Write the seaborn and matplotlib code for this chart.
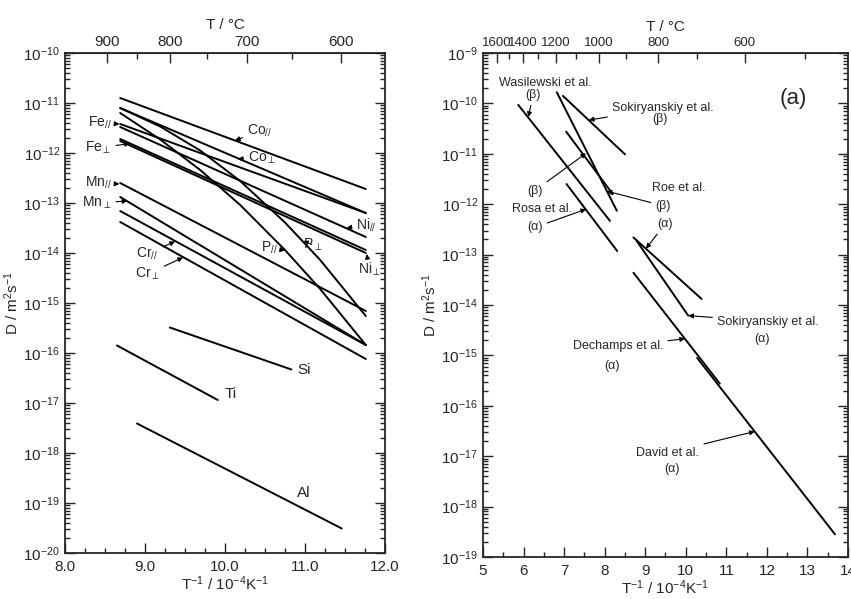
import numpy as np
import pandas as pd
import matplotlib
matplotlib.use("Agg")
import matplotlib.pyplot as plt
import seaborn as sns
from matplotlib.ticker import LogLocator, MultipleLocator, FixedLocator, NullFormatter, FormatStrFormatter

sns.set_style("ticks")
plt.rcParams["font.family"] = ["Liberation Sans", "DejaVu Sans"]
plt.rcParams["mathtext.fontset"] = "custom"
plt.rcParams["mathtext.rm"] = "Liberation Sans"
plt.rcParams["mathtext.it"] = "Liberation Sans:italic"
plt.rcParams["mathtext.bf"] = "Liberation Sans:bold"

# ---------------- data: x = 1/T (10^-4 K^-1), log10 D (m^2/s) ----------------
# left panel (diffusion in the alpha phase, parallel / perpendicular)
co_par = ([8.69, 11.76], [-10.90, -12.72])
co_perp = ([8.69, 11.76], [-11.10, -13.20])
fe_par = ([8.69, 11.76], [-11.42, -13.20])
ni_par = ([8.69, 11.76], [-11.48, -13.68])
fe_perp = ([8.69, 11.76], [-11.72, -13.94])
ni_perp = ([8.69, 11.76], [-11.76, -14.00])
p_par = ([8.69, 9.19, 9.69, 10.19, 10.75, 11.19, 11.76],
         [-11.20, -11.73, -12.34, -13.04, -13.94, -14.72, -15.84])
p_perp = ([8.69, 9.19, 9.69, 10.19, 10.75, 11.19, 11.76],
          [-11.10, -11.47, -11.95, -12.56, -13.39, -14.14, -15.26])
mn_par = ([8.69, 11.76], [-12.60, -15.16])
mn_perp = ([8.69, 11.76], [-12.88, -15.84])
cr_par = ([8.69, 11.76], [-13.16, -15.84])
cr_perp = ([8.69, 11.76], [-13.38, -16.12])
si = ([9.31, 10.83], [-15.49, -16.33])
ti = ([8.65, 9.91], [-15.85, -16.94])
al = ([8.90, 11.46], [-17.41, -19.51])

left_names = ["Co_par", "Co_perp", "Fe_par", "Ni_par", "Fe_perp", "Ni_perp", "P_par", "P_perp",
              "Mn_par", "Mn_perp", "Cr_par", "Cr_perp", "Si", "Ti", "Al"]
left_series = [co_par, co_perp, fe_par, ni_par, fe_perp, ni_perp, p_par, p_perp,
               mn_par, mn_perp, cr_par, cr_perp, si, ti, al]

# right panel (self diffusion, alpha and beta phases)
wasilewski_beta = ([5.87, 8.13], [-10.03, -12.33])
roe_beta = ([6.82, 8.30], [-9.78, -12.13])
sokir_beta = ([6.97, 8.50], [-9.85, -11.01])
rosa_beta = ([7.05, 8.20], [-10.56, -11.80])
rosa_alpha = ([7.06, 8.31], [-11.60, -12.93])
roe_alpha = ([8.71, 10.39], [-12.66, -13.88])
sokir_alpha = ([8.79, 10.06], [-12.73, -14.21])
dechamps_alpha = ([8.71, 10.84], [-13.36, -15.56])
david_alpha = ([10.28, 13.68], [-15.05, -18.55])

right_names = ["Wasilewski b", "Roe b", "Sokiryanskiy b", "Rosa b", "Rosa a", "Roe a",
               "Sokiryanskiy a", "Dechamps a", "David a"]
right_series = [wasilewski_beta, roe_beta, sokir_beta, rosa_beta, rosa_alpha, roe_alpha,
                sokir_alpha, dechamps_alpha, david_alpha]

left_top_ticks = [900, 800, 700, 600]
left_top_minor = [850, 750, 650]
right_top_ticks = [1600, 1400, 1200, 1000, 800, 600]
right_top_minor = [1500, 1300, 1100, 900, 700, 500]


def frame(names, series):
    parts = []
    for n, (xs, ls) in zip(names, series):
        parts.append(pd.DataFrame({"x": xs, "D": 10.0 ** np.asarray(ls), "line": n}))
    return pd.concat(parts, ignore_index=True)


df_left = frame(left_names, left_series)
df_right = frame(right_names, right_series)


def to_c(x):
    x = np.asarray(x, dtype=float)
    with np.errstate(divide="ignore", invalid="ignore"):
        return 1e4 / x - 273.15


def to_inv(t):
    t = np.asarray(t, dtype=float)
    with np.errstate(divide="ignore", invalid="ignore"):
        return 1e4 / (t + 273.15)


fig = plt.figure(figsize=(8.51, 5.99), dpi=100)
axL = fig.add_axes([65 / 851, 46 / 599, 320 / 851, 500 / 599])
axR = fig.add_axes([483 / 851, 42 / 599, 365 / 851, 504 / 599])

for ax, df in ((axL, df_left), (axR, df_right)):
    sns.lineplot(data=df, x="x", y="D", units="line", estimator=None, sort=False,
                 color="black", lw=1.4, ax=ax, legend=False)
    ax.set_yscale("log")

axL.set_xlim(8.0, 12.0)
axL.set_ylim(1e-20, 1e-10)
axR.set_xlim(5, 14)
axR.set_ylim(1e-19, 1e-9)

axL.xaxis.set_major_locator(MultipleLocator(1.0))
axL.xaxis.set_major_formatter(FormatStrFormatter("%.1f"))
axL.xaxis.set_minor_locator(MultipleLocator(0.25))
axR.xaxis.set_major_locator(MultipleLocator(1))
axR.xaxis.set_major_formatter(FormatStrFormatter("%d"))
axR.xaxis.set_minor_locator(MultipleLocator(0.5))

for ax in (axL, axR):
    ax.yaxis.set_major_locator(LogLocator(base=10, numticks=30))
    ax.yaxis.set_minor_locator(LogLocator(base=10, subs=np.arange(2, 10), numticks=30))
    ax.yaxis.set_minor_formatter(NullFormatter())
    ax.tick_params(which="both", direction="in", top=False, right=True, labelsize=11, width=1.0)
    ax.tick_params(which="major", length=7)
    ax.tick_params(which="minor", length=3.5)
    ax.tick_params(axis="x", which="major", pad=5)
    for s in ax.spines.values():
        s.set_linewidth(1.3)
        s.set_visible(True)
    ax.set_ylabel(r"D / m$^2$s$^{-1}$", fontsize=11, labelpad=2)
    ax.set_xlabel(r"T$^{-1}$ / 10$^{-4}$K$^{-1}$", fontsize=11, labelpad=0)

for ax, major, minor, fs in ((axL, left_top_ticks, left_top_minor, 11),
                             (axR, right_top_ticks, right_top_minor, 9.5)):
    sec = ax.secondary_xaxis("top", functions=(to_c, to_inv))
    sec.xaxis.set_major_locator(FixedLocator(major))
    sec.xaxis.set_minor_locator(FixedLocator(minor))
    sec.xaxis.set_major_formatter(FormatStrFormatter("%d"))
    sec.tick_params(which="both", direction="in", labelsize=fs, width=1.0)
    sec.tick_params(which="major", length=7, pad=3)
    sec.tick_params(which="minor", length=4)
    sec.set_xlabel("T / °C", fontsize=11, labelpad=4)

arrow = dict(arrowstyle="-|>", lw=0.8, color="black", mutation_scale=7, shrinkA=1, shrinkB=0)
PAR = r"$_{//}$"
PERP = r"$_{\perp}$"


def ann(ax, text, txy, tip=None, ha="center", fs=10):
    if tip is None:
        ax.text(txy[0], 10 ** txy[1], text, ha=ha, va="center", fontsize=fs)
    else:
        ax.annotate(text, xy=(tip[0], 10 ** tip[1]), xytext=(txy[0], 10 ** txy[1]),
                    textcoords="data", ha=ha, va="center", fontsize=fs, arrowprops=arrow)


# left panel labels
ann(axL, "Co" + PAR, (10.275, -11.56), (10.125, -11.75), ha="left")
ann(axL, "Co" + PERP, (10.29, -12.10), (10.16, -12.12), ha="left")
ann(axL, "Fe" + PAR, (8.58, -11.40), (8.68, -11.42), ha="right")
ann(axL, "Fe" + PERP, (8.58, -11.90), (8.81, -11.81), ha="right")
ann(axL, "Mn" + PAR, (8.58, -12.60), (8.68, -12.62), ha="right")
ann(axL, "Mn" + PERP, (8.58, -13.00), (8.78, -12.96), ha="right")
ann(axL, "Cr" + PAR, (9.03, -14.02), (9.375, -13.77))
ann(axL, "Cr" + PERP, (9.03, -14.42), (9.475, -14.09))
ann(axL, "P" + PAR, (10.56, -13.90), (10.75, -13.95))
ann(axL, "P" + PERP, (11.10, -13.84), (10.975, -13.76))
ann(axL, "Ni" + PAR, (11.64, -13.44), (11.52, -13.50), ha="left")
ann(axL, "Ni" + PERP, (11.66, -14.32), (11.77, -14.02), ha="left")
ann(axL, "Si", (10.90, -16.34), ha="left", fs=11)
ann(axL, "Ti", (10.00, -16.82), ha="left", fs=11)
ann(axL, "Al", (10.90, -18.80), ha="left", fs=11)

# right panel labels
ann(axR, "Wasilewski et al.", (6.53, -9.59), fs=9)
ann(axR, "(β)", (6.23, -9.83), (6.12, -10.27), fs=9)
ann(axR, "Sokiryanskiy et al.", (8.18, -10.09), (7.61, -10.33), ha="left", fs=9)
ann(axR, "(β)", (9.36, -10.31), fs=9)
ann(axR, "(a)", (12.64, -9.91), fs=16)
ann(axR, "(β)", (6.28, -11.73), (7.54, -10.99), fs=9)
ann(axR, "Rosa et al.", (6.45, -12.09), fs=9)
ann(axR, "(α)", (6.28, -12.46), (7.54, -12.10), fs=9)
ann(axR, "Roe et al.", (9.83, -11.67), fs=9)
ann(axR, "(β)", (9.44, -12.03), (8.05, -11.74), fs=9)
ann(axR, "(α)", (9.49, -12.39), (9.02, -12.88), fs=9)
ann(axR, "Sokiryanskiy et al.", (10.77, -14.33), (10.06, -14.21), ha="left", fs=9)
ann(axR, "(α)", (11.88, -14.67), fs=9)
ann(axR, "Dechamps et al.", (8.33, -14.82), (9.98, -14.67), fs=9)
ann(axR, "(α)", (8.18, -15.21), fs=9)
ann(axR, "David et al.", (9.56, -16.93), (11.70, -16.51), fs=9)
ann(axR, "(α)", (9.66, -17.25), fs=9)

fig.savefig("out.png", dpi=100)
